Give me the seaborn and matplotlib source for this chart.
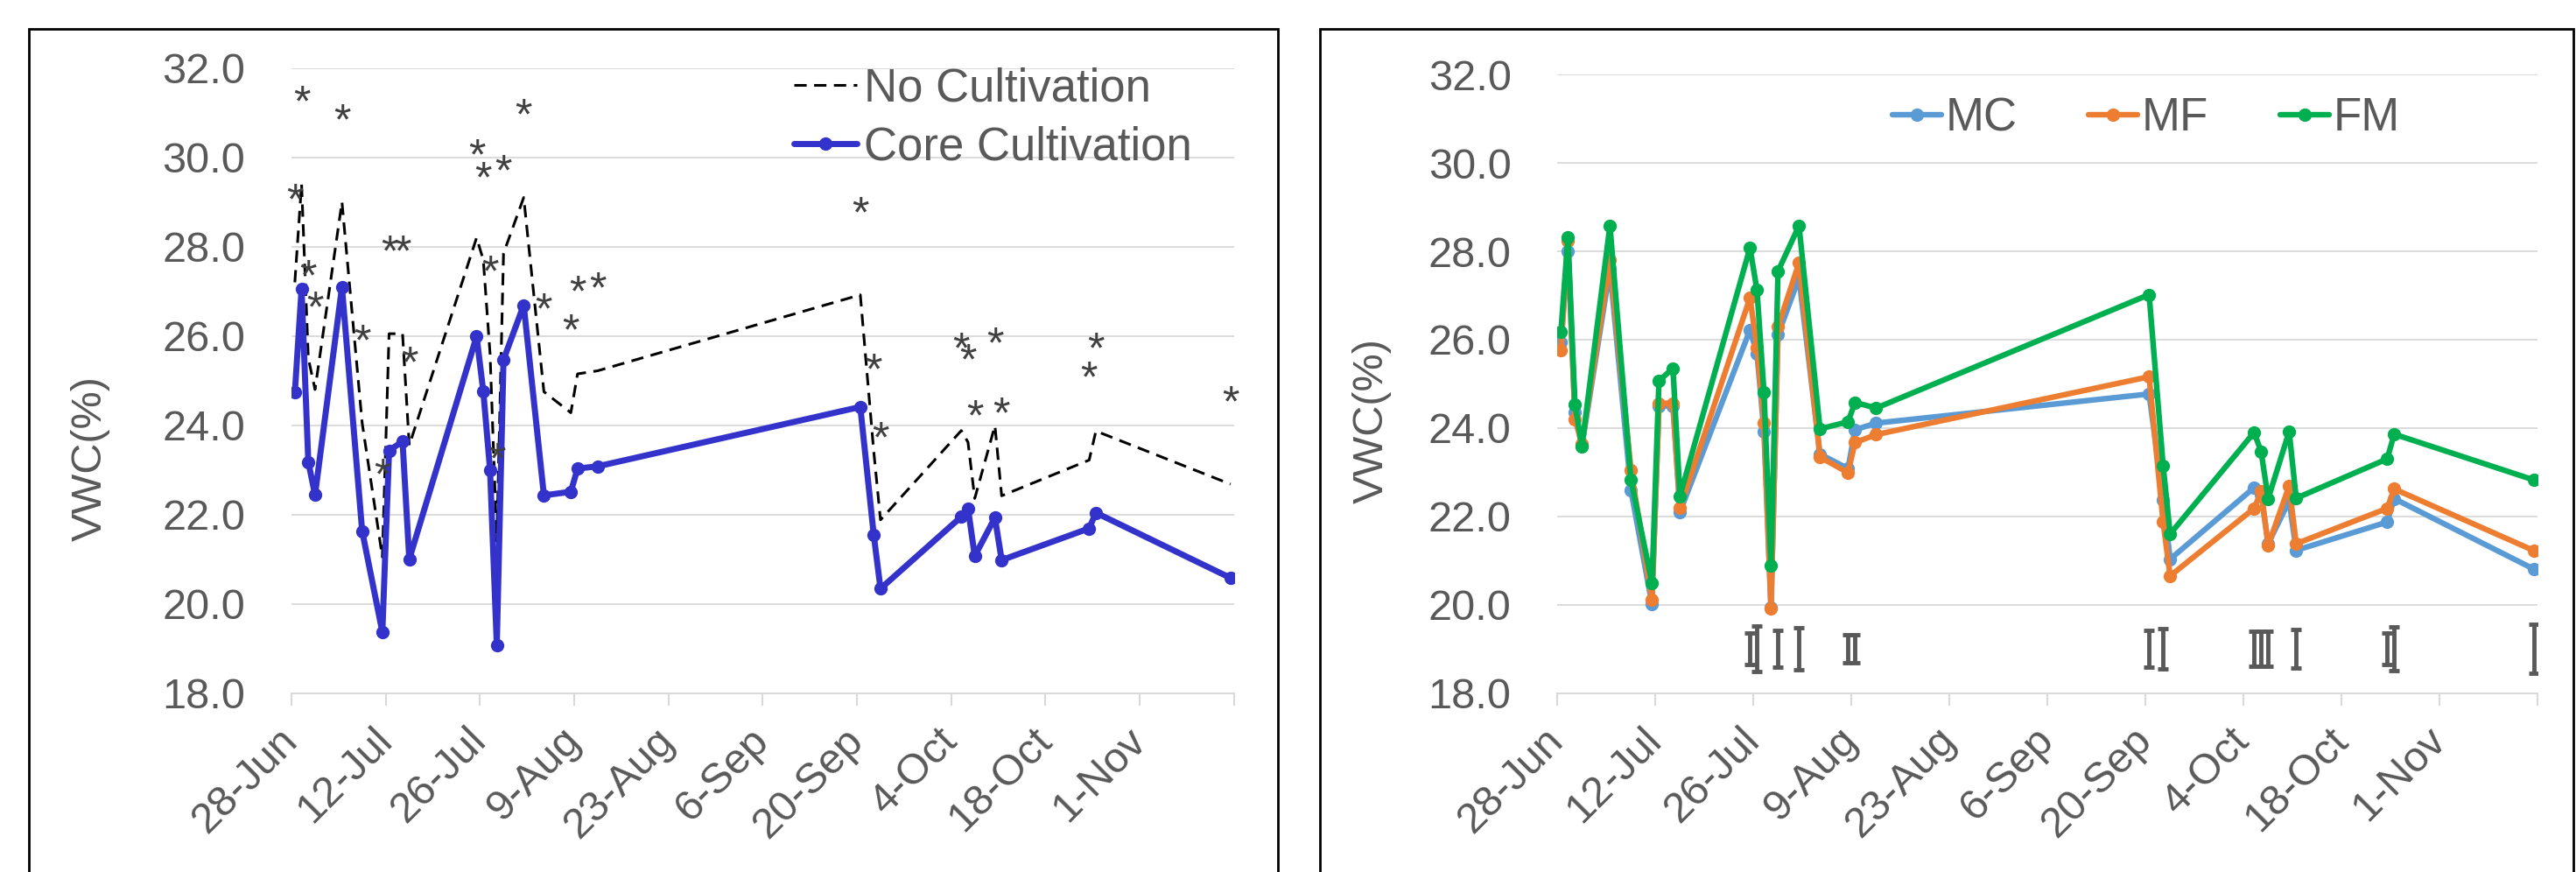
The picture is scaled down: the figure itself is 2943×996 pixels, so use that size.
import matplotlib
matplotlib.use('Agg')
import matplotlib.pyplot as plt
import pandas as pd
import seaborn as sns
from matplotlib.patches import Rectangle

# Sampling dates (same for both panels)
dates = ['2019-06-28', '2019-06-29', '2019-06-30', '2019-07-01', '2019-07-05', '2019-07-08',
         '2019-07-11', '2019-07-12', '2019-07-14', '2019-07-15', '2019-07-25', '2019-07-26',
         '2019-07-27', '2019-07-28', '2019-07-29', '2019-08-01', '2019-08-04', '2019-08-08',
         '2019-08-09', '2019-08-12', '2019-09-20', '2019-09-22', '2019-09-23', '2019-10-05',
         '2019-10-06', '2019-10-07', '2019-10-10', '2019-10-11', '2019-10-24', '2019-10-25',
         '2019-11-14']

# Left panel: cultivation
no_cultivation = [27.2, 29.4, 25.5, 24.8, 29.0, 24.05, 21.05, 26.05, 26.05, 23.55, 28.2, 27.7,
                  25.6, 21.4, 27.85, 29.1, 24.75, 24.28, 25.15, 25.22, 26.92, 23.41, 21.88, 23.88,
                  23.62, 22.36, 23.99, 22.42, 23.22, 23.87, 22.68]
core_cultivation = [24.73, 27.05, 23.18, 22.44, 27.09, 21.63, 19.37, 23.43, 23.64, 21.0, 25.99, 24.75,
                    23.0, 19.08, 25.47, 26.69, 22.43, 22.51, 23.03, 23.08, 24.41, 21.54, 20.34, 21.95,
                    22.14, 21.07, 21.93, 20.98, 21.69, 22.04, 20.58]
signif = ['*'] * len(dates)

# Right panel: treatments
mc = [25.94, 28.01, 24.35, 23.6, 27.6, 22.59, 20.01, 24.5, 24.5, 22.1, 26.22, 25.69,
      23.92, 19.93, 26.11, 27.4, 23.41, 23.08, 23.96, 24.11, 24.77, 22.38, 21.03, 22.65,
      22.5, 21.38, 22.35, 21.23, 21.87, 22.4, 20.8]
mf = [25.76, 28.24, 24.2, 23.64, 27.81, 23.05, 20.12, 24.56, 24.56, 22.19, 26.95, 25.82,
      24.12, 19.91, 26.29, 27.74, 23.34, 22.99, 23.67, 23.85, 25.16, 21.87, 20.65, 22.18,
      22.56, 21.34, 22.69, 21.38, 22.18, 22.62, 21.22]
fm = [26.18, 28.32, 24.54, 23.59, 28.58, 22.83, 20.49, 25.07, 25.35, 22.46, 28.08, 27.12,
      24.8, 20.89, 27.55, 28.58, 23.98, 24.14, 24.58, 24.45, 27.02, 23.15, 21.6, 23.9,
      23.46, 22.4, 23.92, 22.41, 23.3, 23.86, 22.82]

# LSD bars drawn along the bottom of the right panel
lsd_dates = ['2019-07-25', '2019-07-26', '2019-07-29', '2019-08-01', '2019-08-08', '2019-08-09',
             '2019-09-20', '2019-09-22', '2019-10-05', '2019-10-06', '2019-10-07', '2019-10-11',
             '2019-10-24', '2019-10-25', '2019-11-14']
lsd_half = [0.35, 0.52, 0.41, 0.48, 0.31, 0.31, 0.41, 0.45, 0.39, 0.39, 0.39, 0.44, 0.36, 0.5, 0.56]
lsd_level = 19.0

start = pd.Timestamp('2019-06-28')
tick_dates = pd.date_range(start, periods=11, freq='14D')
tick_labels = [f'{d.day}-{d:%b}' for d in tick_dates[:-1]] + ['']


def day_pos(ds):
    # Excel date axis puts each point in the middle of its day slot
    return (pd.to_datetime(ds) - start).days.values + 0.5


sns.set_theme(style='white')
plt.rcParams['font.family'] = ['Liberation Sans', 'DejaVu Sans']

GRAY = '#595959'
GRID = '#D9D9D9'
FS = 35


def style_axis(ax):
    ax.set_xlim(0, 140)
    ax.set_ylim(18, 32)
    ax.set_yticks(range(18, 33, 2))
    ax.set_yticklabels([f'{v:.1f}' for v in range(18, 33, 2)])
    ax.set_xticks(range(0, 141, 14))
    ax.set_xticklabels(tick_labels, rotation=45, ha='right', va='center', rotation_mode='anchor')
    ax.grid(axis='y', color=GRID, lw=1.3)
    ax.grid(axis='x', visible=False)
    ax.set_axisbelow(True)
    for s in ['left', 'right', 'top']:
        ax.spines[s].set_visible(False)
    ax.spines['bottom'].set_color(GRID)
    ax.spines['bottom'].set_linewidth(1.5)
    ax.tick_params(axis='x', bottom=True, direction='out', length=10, width=1.5, color=GRID,
                   pad=24, labelsize=FS, labelcolor=GRAY)
    ax.tick_params(axis='y', left=False, length=0, pad=38, labelsize=FS, labelcolor=GRAY)
    ax.set_xlabel('')
    ax.set_ylabel('VWC(%)', fontsize=FS, color=GRAY)


fig = plt.figure(figsize=(29.43, 9.96), dpi=100)
ax1 = fig.add_axes([0.11315, 0.20512, 0.36585, 0.71687])
ax2 = fig.add_axes([0.60459, 0.20532, 0.38056, 0.70904])

# ---- left panel
x = day_pos(dates)
df_left = pd.DataFrame({'x': x, 'nc': no_cultivation, 'cc': core_cultivation})
sns.lineplot(data=df_left, x='x', y='nc', ax=ax1, color='black', lw=2.2,
             linestyle=(0, (4.6, 2.8)), label='No Cultivation')
sns.lineplot(data=df_left, x='x', y='cc', ax=ax1, color='#3333CC', lw=5,
             marker='o', markersize=11, markeredgewidth=0, label='Core Cultivation')
for xi, yi, s in zip(x, no_cultivation, signif):
    ax1.annotate(s, (xi, yi), xytext=(0, 56), textcoords='offset points', ha='center',
                 va='baseline', fontsize=36, color='#404040')
style_axis(ax1)
ax1.yaxis.set_label_coords(-0.1923, 0.375)
ax1.legend(loc='center left', bbox_to_anchor=(906.7 / 2943, 1 - 135 / 996),
           bbox_transform=fig.transFigure, frameon=False, fontsize=38, labelcolor=GRAY,
           handlelength=1.37, handletextpad=0.15, labelspacing=0.34, borderpad=0, borderaxespad=0)

# ---- right panel
df_right = pd.DataFrame({'x': x, 'MC': mc, 'MF': mf, 'FM': fm}).melt(
    id_vars='x', var_name='Treatment', value_name='VWC')
sns.lineplot(data=df_right, x='x', y='VWC', hue='Treatment', ax=ax2,
             palette=['#5B9BD5', '#ED7D31', '#00B050'], lw=4.6, marker='o',
             markersize=11, markeredgewidth=0)
ax2.errorbar(day_pos(lsd_dates), [lsd_level] * len(lsd_dates), yerr=lsd_half, fmt='none',
             ecolor=GRAY, elinewidth=3.5, capsize=4.2, capthick=3.5)
style_axis(ax2)
ax2.yaxis.set_label_coords(-0.169, 0.44)
ax2.legend(loc='center left', bbox_to_anchor=(2161.7 / 2943, 1 - 135 / 996),
           bbox_transform=fig.transFigure, frameon=False, fontsize=38, labelcolor=GRAY, ncol=3,
           handlelength=1.06, handletextpad=0.09, columnspacing=1.55, borderpad=0, borderaxespad=0)

# panel borders
fig.add_artist(Rectangle((33 / 2943, -0.1), (1460 - 33) / 2943, 1.1 - 33 / 996,
                         transform=fig.transFigure, fill=False, ec='black', lw=2))
fig.add_artist(Rectangle((1508 / 2943, -0.1), (2940 - 1508) / 2943, 1.1 - 33 / 996,
                         transform=fig.transFigure, fill=False, ec='black', lw=2))

fig.savefig('out.png', dpi=100)
